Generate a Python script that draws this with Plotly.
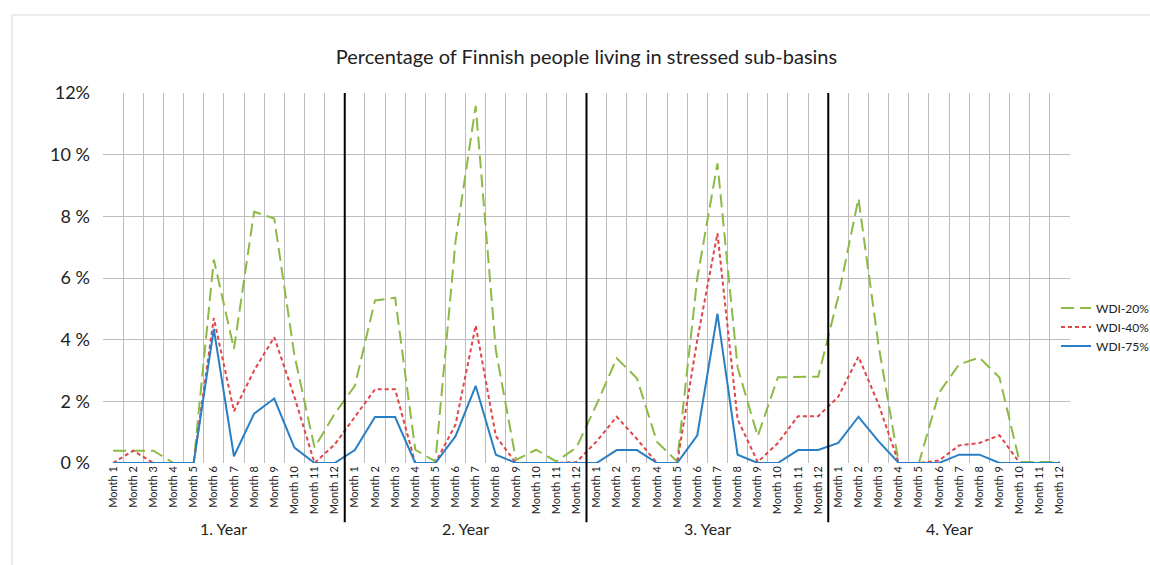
import plotly.graph_objects as go

years = ["1. Year", "2. Year", "3. Year", "4. Year"]
months = ["Month %d" % i for i in range(1, 13)]

wdi20 = [0.4, 0.4, 0.4, 0, 0, 6.6, 3.7, 8.15, 7.93, 3.5, 0.5, 1.6,
         2.5, 5.27, 5.36, 0.43, 0.05, 7.2, 11.58, 3.65, 0.1, 0.43, 0.05, 0.5,
         1.9, 3.4, 2.75, 0.68, 0.05, 6.0, 9.72, 3.1, 0.87, 2.78, 2.8, 2.8,
         5.4, 8.58, 3.8, 0, 0, 2.28, 3.2, 3.42, 2.77, 0.03, 0.03, 0.03]
wdi40 = [0, 0.4, 0, 0, 0, 4.7, 1.68, 3.0, 4.08, 2.15, 0, 0.6,
         1.5, 2.39, 2.39, 0, 0, 1.25, 4.46, 0.87, 0, 0, 0, 0.03,
         0.7, 1.5, 0.78, 0, 0, 4.0, 7.45, 1.42, 0.03, 0.65, 1.52, 1.52,
         2.15, 3.45, 1.9, 0, 0, 0.08, 0.57, 0.65, 0.9, 0, 0, 0]
wdi75 = [0, 0, 0, 0, 0, 4.35, 0.22, 1.6, 2.09, 0.5, 0, 0,
         0.42, 1.49, 1.49, 0, 0, 0.87, 2.5, 0.27, 0, 0, 0, 0,
         0, 0.42, 0.42, 0, 0, 0.9, 4.84, 0.27, 0, 0, 0.42, 0.42,
         0.65, 1.5, 0.7, 0, 0, 0, 0.27, 0.27, 0, 0, 0, 0]

y_ticks = [0, 2, 4, 6, 8, 10, 12]
y_ticktext = ["0 %", "2 %", "4 %", "6 %", "8 %", "10 %", "12%"]

series_names = ["WDI-20%", "WDI-40%", "WDI-75%"]
series_colors = ["#8cba45", "#e0454a", "#2a7fc4"]
series_dash = ["13px,6px", "4px,3px", "solid"]

cats = ["%s|%s" % (y, m) for y in years for m in months]
tick_text = [m for y in years for m in months]

FONT = "Lato, 'Open Sans', sans-serif"
W, H = 1150, 565
ML, MR, MT, MB = 103, 80, 93, 102
PW = W - ML - MR

fig = go.Figure()
for name, vals, col, dash in zip(series_names, [wdi20, wdi40, wdi75], series_colors, series_dash):
    fig.add_trace(go.Scatter(x=cats, y=vals, mode="lines", name=name,
                             line=dict(color=col, width=2, dash=dash)))

shapes = []
for k in range(1, len(years)):
    xb = k * len(months) - 0.5
    shapes.append(dict(type="line", xref="x", yref="paper", x0=xb, x1=xb, y0=-0.16, y1=1,
                       line=dict(color="black", width=2)))
shapes.append(dict(type="rect", xref="paper", yref="paper", x0=-0.094, x1=1.3, y0=-0.6, y1=1.211,
                   line=dict(color="#d9d9d9", width=1), fillcolor="rgba(0,0,0,0)", layer="below"))

annotations = []
for k, y in enumerate(years):
    annotations.append(dict(x=k * len(months) + (len(months) - 1) / 2, y=-0.176, xref="x", yref="paper",
                            text=y, showarrow=False, font=dict(family=FONT, size=16, color="#222"),
                            yanchor="middle"))

fig.update_layout(
    width=W, height=H,
    margin=dict(l=ML, r=MR, t=MT, b=MB, autoexpand=False),
    paper_bgcolor="white", plot_bgcolor="white",
    title=dict(text="Percentage of Finnish people living in stressed sub-basins",
               x=0.5, xref="paper", y=1 - 57 / H, yanchor="middle",
               font=dict(family=FONT, size=20, color="#222")),
    font=dict(family=FONT, color="#222"),
    showlegend=True,
    legend=dict(x=(1056 - ML) / PW, xanchor="left",
                y=(H - MB - 327) / (H - MT - MB), yanchor="middle",
                font=dict(family=FONT, size=12, color="#222"),
                bgcolor="rgba(0,0,0,0)", tracegroupgap=0, borderwidth=0),
    shapes=shapes, annotations=annotations,
)
fig.update_xaxes(type="category", range=[-0.5, len(cats) - 0.5], tickmode="array",
                 tickvals=cats, ticktext=tick_text, tickangle=-90, tickson="boundaries",
                 showgrid=True, gridcolor="#bdbdbd", gridwidth=1, showline=False, zeroline=False,
                 ticks="", tickfont=dict(family=FONT, size=11, color="#222"))
fig.update_yaxes(range=[0, 12], tickvals=y_ticks, ticktext=y_ticktext, ticklabelstandoff=12,
                 showgrid=True, gridcolor="#bdbdbd", gridwidth=1, zeroline=False,
                 showline=False, ticks="", tickfont=dict(family=FONT, size=18, color="#222"))

fig.write_html("out.html", config={"displayModeBar": False},
               post_script="document.body.style.margin='0px';")
